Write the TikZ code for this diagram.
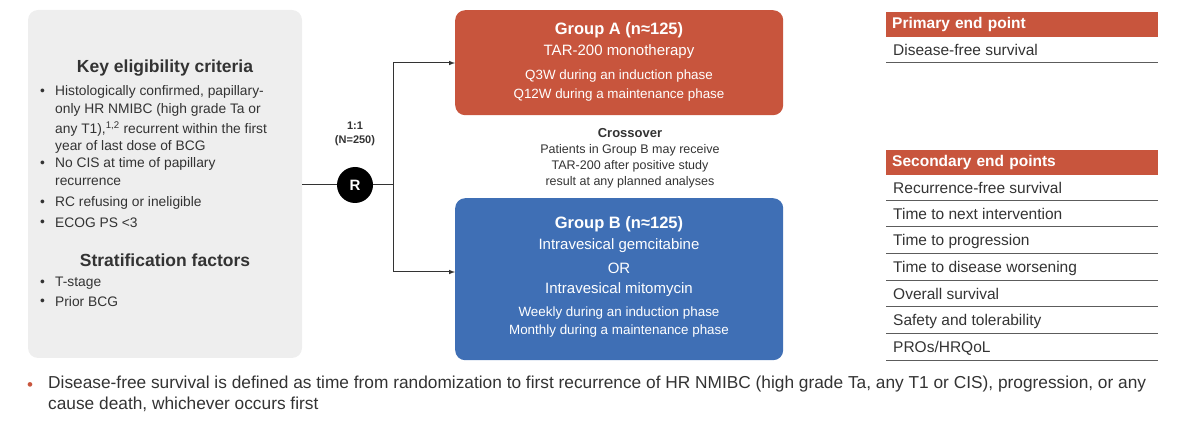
\documentclass[tikz,border=0pt]{standalone}
\usepackage{fontspec}
\setmainfont{Liberation Sans}
\definecolor{critgray}{HTML}{EEEEEE}
\definecolor{groupred}{HTML}{C8553D}
\definecolor{groupblue}{HTML}{3F6FB5}
\definecolor{textgray}{HTML}{333333}
\newcommand\bul[3]{\node[crit,anchor=west] at (40,#1) {\textbullet};\node[crit,anchor=west] (#2) at (55,#1) {#3};}
\newcommand\eprow[3]{\node[endtxt] (#1) at (893,#2) {#3};\draw[rowline] (886,#2+13) -- (1158,#2+13);}
\begin{document}
\begin{tikzpicture}[x=1pt,y=-1pt]

\tikzset{crit/.style={inner sep=0pt,font=\fontsize{13.8}{16}\selectfont,text=textgray}}
\tikzset{head/.style={inner sep=0pt,font=\fontsize{17.5}{20}\selectfont\bfseries,text=textgray}}
\tikzset{grp/.style={inner sep=0pt,text=white,font=\fontsize{13.4}{15}\selectfont}}
\tikzset{endtxt/.style={inner sep=0pt,anchor=west,font=\fontsize{15.5}{18}\selectfont,text=textgray}}
\tikzset{rowline/.style={draw=textgray!80,line width=1pt}}
\tikzset{hdr/.style={fill=groupred,draw=none,minimum height=25pt,minimum width=272pt,anchor=north west,
  text=white,font=\fontsize{15.5}{18}\selectfont\bfseries,align=left,text width=260pt,inner xsep=6pt}}
\tikzset{link/.style={draw=textgray,line width=1pt}}

\useasboundingbox (0,0) rectangle (1200,430);

% eligibility panel
\fill[critgray,rounded corners=10pt] (28,10) rectangle (302,358);
\node[head] (elig) at (165,68) {Key eligibility criteria};
\bul{92}{b1}{Histologically confirmed, papillary-}
\node[crit,anchor=west] at (55,110) {only HR NMIBC (high grade Ta or};
\node[crit,anchor=west] at (55,129) {any T1),\textsuperscript{1,2} recurrent within the first};
\node[crit,anchor=west] at (55,147) {year of last dose of BCG};
\bul{164}{b2}{No CIS at time of papillary}
\node[crit,anchor=west] at (55,182) {recurrence};
\bul{203}{b3}{RC refusing or ineligible}
\bul{223}{b4}{ECOG PS <3}
\node[head] (strat) at (165,260) {Stratification factors};
\bul{283}{b5}{T-stage}
\bul{302}{b6}{Prior BCG}

% randomisation
\coordinate (panel) at (302,185);
\node[circle,fill=black,minimum size=36pt,inner sep=0pt,text=white,font=\fontsize{15}{16}\selectfont\bfseries] (R) at (355,185) {R};
\node[inner sep=0pt,align=center,font=\fontsize{11}{14}\selectfont\bfseries,text=textgray] (ratio) at (355,134) {1:1\\(N=250)};
\coordinate (split) at (393,185);

% groups
\node[fill=groupred,rounded corners=10pt,minimum width=328pt,minimum height=105pt,anchor=north west] (A) at (455,10) {};
\node[grp,font=\fontsize{16.5}{18}\selectfont\bfseries] at (619,30) {Group A (n≈125)};
\node[grp,font=\fontsize{15}{17}\selectfont] at (619,52) {TAR-200 monotherapy};
\node[grp] at (619,76) {Q3W during an induction phase};
\node[grp] at (619,95) {Q12W during a maintenance phase};

\node[inner sep=0pt,align=center,font=\fontsize{12.5}{16}\selectfont,text=textgray] (cross) at (630,158)
  {{\fontsize{13}{15}\selectfont\bfseries Crossover}\\Patients in Group B may receive\\TAR-200 after positive study\\result at any planned analyses};

\node[fill=groupblue,rounded corners=10pt,minimum width=328pt,minimum height=162pt,anchor=north west] (B) at (455,198) {};
\node[grp,font=\fontsize{16.5}{18}\selectfont\bfseries] at (619,224) {Group B (n≈125)};
\node[grp,font=\fontsize{15}{17}\selectfont] at (619,246) {Intravesical gemcitabine};
\node[grp,font=\fontsize{15}{17}\selectfont] at (619,268) {OR};
\node[grp,font=\fontsize{15}{17}\selectfont] at (619,290) {Intravesical mitomycin};
\node[grp] at (619,313) {Weekly during an induction phase};
\node[grp] at (619,331) {Monthly during a maintenance phase};

\draw[link] (panel) -- (R) -- (split);
\draw[link,-latex] (split) |- (A.west |- 0,63);
\draw[link,-latex] (split) |- (B.west |- 0,272);

% end points
\node[hdr] (prim) at (886,12) {Primary end point};
\eprow{dfs}{50}{Disease-free survival}
\node[hdr] (sec) at (886,150) {Secondary end points};
\eprow{rfs}{188}{Recurrence-free survival}
\eprow{ttni}{214}{Time to next intervention}
\eprow{ttp}{241}{Time to progression}
\eprow{ttdw}{268}{Time to disease worsening}
\eprow{os}{294}{Overall survival}
\eprow{safe}{321}{Safety and tolerability}
\eprow{pro}{348}{PROs/HRQoL}

% footnote
\node[inner sep=0pt,anchor=west,text=groupred,font=\fontsize{17}{21}\selectfont] (dot) at (27,387) {\textbullet};
\node[inner sep=0pt,anchor=north west,align=left,text=textgray,font=\fontsize{17.3}{21}\selectfont] (note) at (48,376)
  {Disease-free survival is defined as time from randomization to first recurrence of HR NMIBC (high grade Ta, any T1 or CIS), progression, or any\\cause death, whichever occurs first};

\end{tikzpicture}
\end{document}
